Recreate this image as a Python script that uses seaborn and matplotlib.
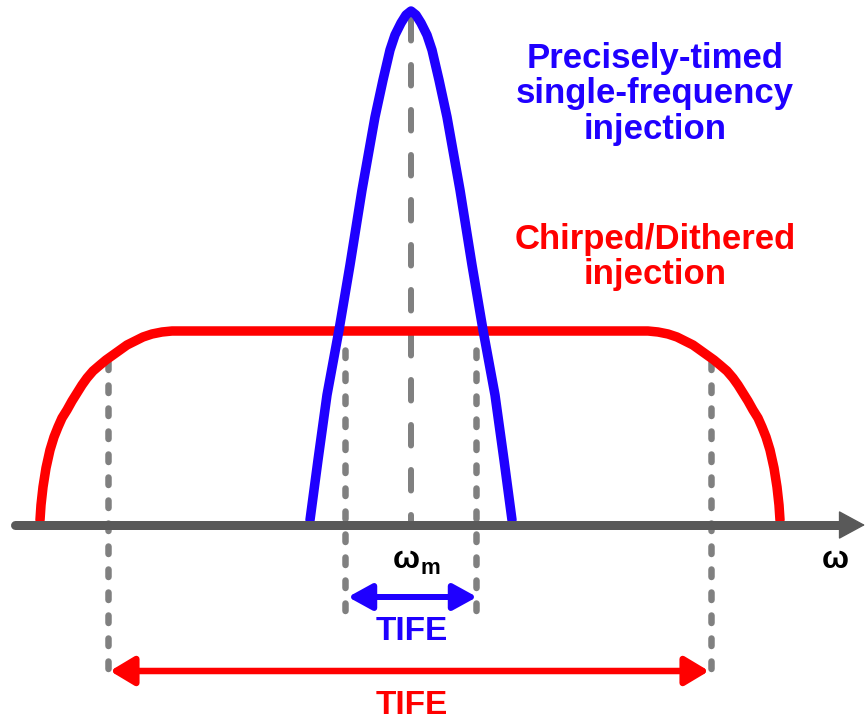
import matplotlib
matplotlib.use("Agg")
import matplotlib.pyplot as plt
import seaborn as sns
import pandas as pd
from matplotlib.patches import FancyArrowPatch

# ---------------- data (pixel-space coordinates) ----------------
red_x = [40, 41, 43, 46, 50, 54, 58, 62, 67, 72, 77, 82, 87, 93, 100, 106, 113, 120,
         127, 135, 143, 152, 162, 172, 183,
         637, 648, 658, 668, 677, 685, 693, 700, 707, 714, 720, 727, 733, 738, 743,
         748, 753, 758, 762, 766, 770, 774, 777, 779, 780]
red_y = [520, 505, 487, 468, 450, 437, 427, 418, 410, 401, 393, 385, 378, 371, 365, 360, 355, 350,
         345, 341, 337, 334, 332, 331, 331,
         331, 331, 332, 334, 337, 341, 345, 350, 355, 360, 365, 371, 378, 385, 393,
         401, 410, 418, 427, 437, 450, 468, 487, 505, 520]

blue_x = [310, 318, 327, 339, 350, 362, 375, 383, 390, 395, 401, 406, 411,
          416, 421, 427, 432, 439, 447, 460, 472, 483, 495, 504, 512]
blue_y = [520, 460, 395, 330, 265, 190, 117, 80, 50, 35, 23, 15, 11,
          15, 23, 35, 50, 80, 117, 190, 265, 330, 395, 460, 520]

axis_y = 525
axis_x = [15, 865]
center_x = 411
center_y = [20, 522]
dotted_x = [108, 345, 476, 711]
dotted_y0 = [362, 350, 350, 362]
dotted_y1 = [680, 615, 615, 680]

blue_tife_x = [348, 477]
blue_tife_y = 597
red_tife_x = [110, 709]
red_tife_y = 671

BLUE = "#1F00FF"
RED = "#FF0000"
GRAY_AXIS = "#595959"
GRAY_DASH = "#808080"

# ---------------- figure ----------------
sns.set_theme(style="white")
plt.rcParams["font.family"] = ["Liberation Sans", "DejaVu Sans"]
plt.rcParams["lines.scale_dashes"] = False

W, H = 865, 723
fig = plt.figure(figsize=(W / 100, H / 100), dpi=100)
ax = fig.add_axes([0, 0, 1, 1])

px = 0.72  # points per pixel

# gray guide lines
ax.plot([center_x, center_x], center_y, color=GRAY_DASH, lw=6 * px,
        linestyle=(0, (20.5 * px, 24.5 * px)), dash_capstyle="round", zorder=1)
for x, y0, y1 in zip(dotted_x, dotted_y0, dotted_y1):
    ax.plot([x, x], [y0, y1], color=GRAY_DASH, lw=6.5 * px,
            linestyle=(0, (7.5 * px, 15.5 * px)), dash_capstyle="round", zorder=1)

# curves
red_df = pd.DataFrame({"x": red_x, "y": red_y})
blue_df = pd.DataFrame({"x": blue_x, "y": blue_y})
sns.lineplot(data=red_df, x="x", y="y", sort=False, estimator=None, ax=ax,
             color=RED, lw=9.5 * px, solid_joinstyle="round", zorder=3)
sns.lineplot(data=blue_df, x="x", y="y", sort=False, estimator=None, ax=ax,
             color=BLUE, lw=9.5 * px, solid_joinstyle="round", zorder=3)
ax.set_xlim(0, W)
ax.set_ylim(H, 0)
ax.axis("off")

# horizontal axis with arrow
ax.plot([axis_x[0], axis_x[1] - 24], [axis_y, axis_y], color=GRAY_AXIS,
        lw=9 * px, solid_capstyle="round", zorder=4)
ax_arrow = FancyArrowPatch((axis_x[1] - 30, axis_y), (axis_x[1], axis_y),
                           arrowstyle="-|>,head_length=%f,head_width=%f" % (24 * px, 13 * px),
                           mutation_scale=1, color=GRAY_AXIS, lw=1,
                           shrinkA=0, shrinkB=0, zorder=4)
ax.add_patch(ax_arrow)

# TIFE arrows
ba = FancyArrowPatch((blue_tife_x[0], blue_tife_y), (blue_tife_x[1], blue_tife_y),
                     arrowstyle="<|-|>,head_length=%f,head_width=%f" % (20 * px, 11 * px),
                     mutation_scale=1, color=BLUE, lw=6 * px,
                     shrinkA=0, shrinkB=0, zorder=5)
ax.add_patch(ba)
ra = FancyArrowPatch((red_tife_x[0], red_tife_y), (red_tife_x[1], red_tife_y),
                     arrowstyle="<|-|>,head_length=%f,head_width=%f" % (20 * px, 12 * px),
                     mutation_scale=1, color=RED, lw=6.5 * px,
                     shrinkA=0, shrinkB=0, zorder=5)
ax.add_patch(ra)

# texts
ax.text(655, 94, "Precisely-timed\nsingle-frequency\ninjection", color=BLUE,
        fontsize=25, fontweight="bold", ha="center", va="center", linespacing=1.1)
ax.text(655, 257, "Chirped/Dithered\ninjection", color=RED,
        fontsize=25, fontweight="bold", ha="center", va="center", linespacing=1.1)
ax.text(412, 632, "TIFE", color=BLUE, fontsize=24, fontweight="bold",
        ha="center", va="center")
ax.text(412, 706, "TIFE", color=RED, fontsize=24, fontweight="bold",
        ha="center", va="center")
ax.text(835, 560, "ω", color="black", fontsize=23, fontweight="bold",
        ha="center", va="center")
ax.text(406, 560, "ω", color="black", fontsize=23, fontweight="bold",
        ha="center", va="center")
ax.text(420, 574, "m", color="black", fontsize=16, fontweight="bold",
        ha="left", va="baseline")

fig.savefig("out.png", dpi=100)
